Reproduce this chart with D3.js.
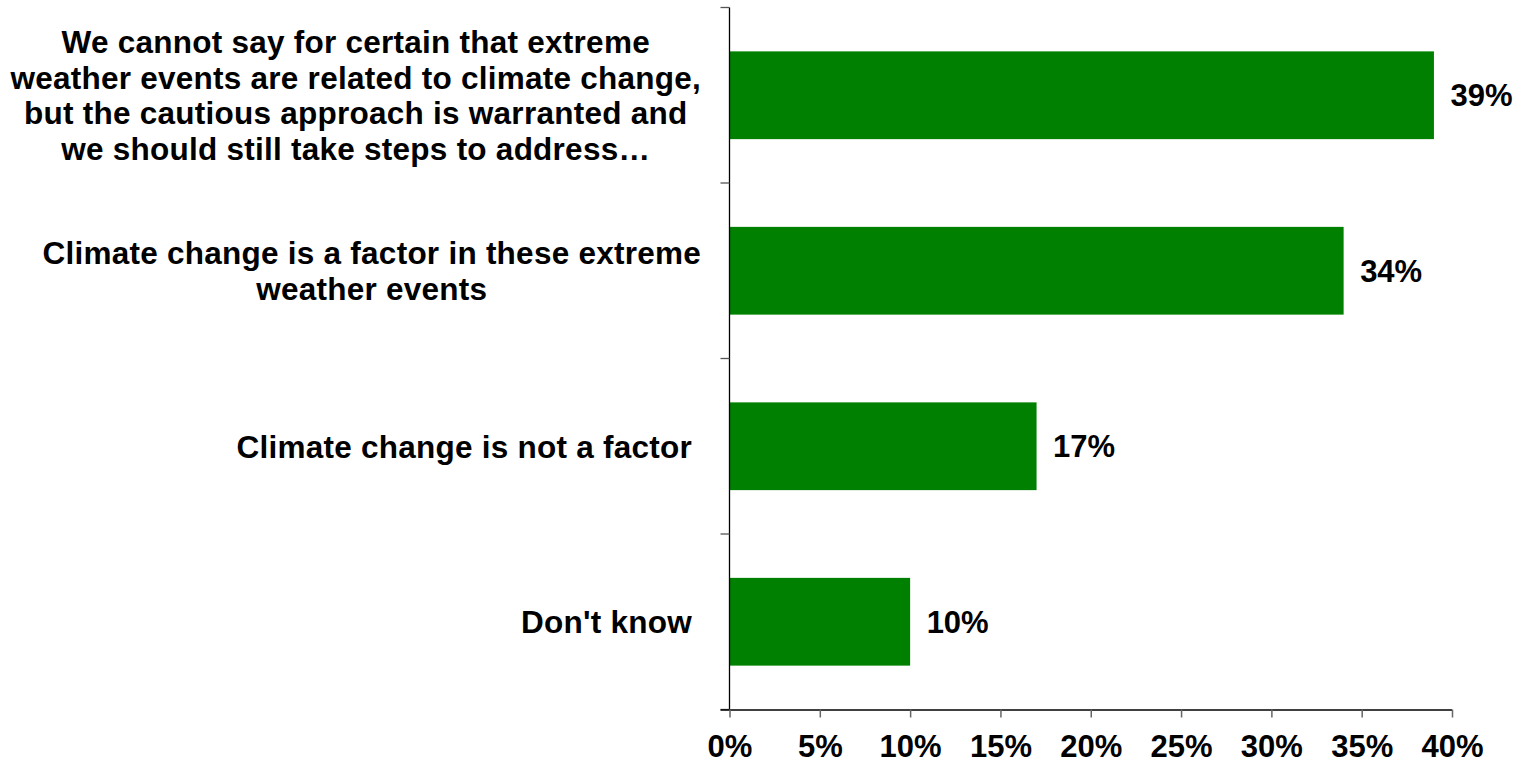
<!DOCTYPE html>
<html>
<head>
<meta charset="utf-8">
<script src="https://cdn.jsdelivr.net/npm/d3@7"></script>
<style>
  html, body { margin: 0; padding: 0; background: #fff; }
  svg text { font-family: "Liberation Sans", Arial, sans-serif; font-weight: bold; fill: #000; }
</style>
</head>
<body>
<svg id="chart" width="1524" height="763"></svg>
<script>
// Survey responses, top to bottom
const categories = [
  ["We cannot say for certain that extreme", "weather events are related to climate change,", "but the cautious approach is warranted and", "we should still take steps to address\u2026"],
  ["Climate change is a factor in these extreme", "weather events"],
  ["Climate change is not a factor "],
  ["Don't know "]
];
const values = [39, 34, 17, 10];
const xTicks = [0, 5, 10, 15, 20, 25, 30, 35, 40];

const svg = d3.select("#chart");
const plot = { left: 729.5, right: 1452, top: 7.5, bottom: 709.5 };

const x = d3.scaleLinear().domain([0, 40]).range([plot.left, plot.right]);
const y = d3.scaleBand().domain(d3.range(categories.length)).range([plot.top, plot.bottom]).paddingInner(0.5).paddingOuter(0.25);

// Bars
svg.append("g").selectAll("rect").data(values).join("rect")
  .attr("x", x(0))
  .attr("y", (d, i) => y(i))
  .attr("width", d => x(d) - x(0))
  .attr("height", y.bandwidth())
  .attr("fill", "#008000");

// Value labels
svg.append("g").selectAll("text").data(values).join("text")
  .attr("x", d => x(d) + 16.5)
  .attr("y", (d, i) => y(i) + y.bandwidth() / 2)
  .attr("dy", "0.36em")
  .attr("font-size", 31)
  .text(d => d + "%");

// Vertical axis with category boundary ticks
const band = (plot.bottom - plot.top) / categories.length;
const axisY = svg.append("g").attr("stroke", "#000");
axisY.append("line").attr("x1", plot.left).attr("x2", plot.left).attr("y1", plot.top).attr("y2", plot.bottom).attr("stroke-width", 1.3);
axisY.selectAll("line.tick").data(d3.range(categories.length + 1)).join("line")
  .attr("class", "tick")
  .attr("x1", plot.left - 9).attr("x2", plot.left)
  .attr("y1", i => plot.top + i * band).attr("y2", i => plot.top + i * band)
  .attr("stroke", "#555").attr("stroke-width", 1.3);

// Horizontal axis
const xAxis = d3.axisBottom(x).tickValues(xTicks).tickFormat(d => d + "%").tickSize(8).tickSizeOuter(0);
const gx = svg.append("g").attr("transform", `translate(0,${plot.bottom})`).call(xAxis);
gx.select(".domain").attr("stroke", "#000").attr("stroke-width", 1.3).attr("d", `M${plot.left - 9},0.5H${plot.right}`);
gx.selectAll(".tick line").attr("stroke", "#666").attr("stroke-width", 1.5);
gx.selectAll(".tick text")
  .attr("font-size", 31)
  .attr("font-family", "'Liberation Sans', Arial, sans-serif")
  .attr("font-weight", "bold")
  .attr("fill", "#000")
  .attr("y", 47.5)
  .attr("dy", "0");

// Category labels: each block's lines are centred, block right-aligned to the axis
const labelRight = 701;
const lineH = 35.5;
categories.forEach((lines, i) => {
  const cy = y(i) + y.bandwidth() / 2;
  const t = svg.append("text")
    .attr("font-size", 31.5)
    .attr("letter-spacing", 0.25)
    .attr("text-anchor", "middle")
    .style("white-space", "pre");
  lines.forEach((ln, k) => {
    t.append("tspan")
      .attr("y", cy + (k - (lines.length - 1) / 2) * lineH)
      .attr("dy", "0.36em")
      .text(ln);
  });
  let w = 0;
  t.selectAll("tspan").each(function () { w = Math.max(w, this.getComputedTextLength()); });
  t.selectAll("tspan").attr("x", labelRight - w / 2);
});
</script>
</body>
</html>
